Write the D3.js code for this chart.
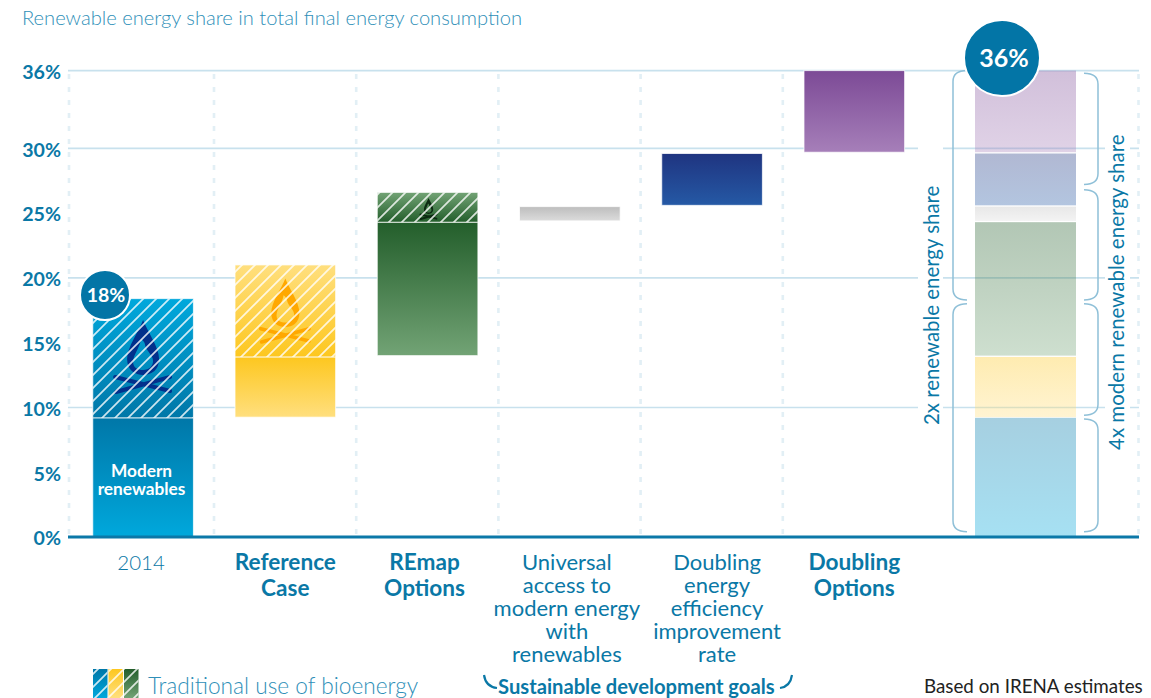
<!DOCTYPE html>
<html><head><meta charset="utf-8">
<script src="https://cdn.jsdelivr.net/npm/d3@7"></script>
<style>
html,body{margin:0;padding:0;background:#fff;overflow:hidden}
svg{display:block}
text{font-family:Lato,"Open Sans",sans-serif}
</style></head><body>
<svg id="c" width="1151" height="698"></svg>
<script>
// ---- data ----
const categories = ["2014","Reference Case","REmap Options","Universal access","Doubling efficiency","Doubling Options"];
const solidFrom  = [0, 9.25, 14.0, 24.4, 25.6, 29.7];
const solidTo    = [9.2, 13.9, 24.3, 25.5, 29.6, 36.0];
const hatchFrom  = [9.2, 13.9, 24.3];
const hatchTo    = [18.4, 21.0, 26.6];
const paletteTop    = ["#0077a8","#fdc71f","#235e2b","#bdbdbd","#1f3480","#7c4a96"];
const paletteBottom = ["#00a8dc","#ffdf7e","#72a375","#dcdcdc","#2559a5","#a67fb9"];
const yTicks = [0,5,10,15,20,25,30,36];
const gridValues = [10,20,30,36];
const dividers = [0,1,2,3,4,5,6,7];
const leftBraces  = [[36,18.3],[18.0,0.4]];
const rightBraces = [[35.8,27.2],[26.8,18.3],[18.0,9.4],[9.1,0.4]];
const catLabels = [
  ["2014"],["Reference","Case"],["REmap","Options"],
  ["Universal","access to","modern energy","with","renewables"],
  ["Doubling","energy","efficiency","improvement","rate"],
  ["Doubling","Options"]];
const catBold = [false,true,true,false,false,true];

// ---- scales ----
const svg = d3.select("#c");
const y = d3.scaleLinear().domain([0,36]).range([537,70.6]);
const x = d3.scaleBand().domain(categories).range([72,925.4]).paddingInner(0.2925).paddingOuter(0.146);
const xDiv = d3.scaleLinear().domain([0,1,6,7]).range([69,214,925,1138.5]);
const xSummary = d3.scaleBand().domain(["summary"]).range([975,1076]);
const BLUE = "#0a78a6", GRID = "#c8e1ed", LIGHT = "#2f8fb8";

// ---- defs ----
const defs = svg.append("defs");
function grad(id,a,b){
  const g = defs.append("linearGradient").attr("id",id).attr("x1",0).attr("x2",0).attr("y1",0).attr("y2",1);
  g.append("stop").attr("offset",0).attr("stop-color",a);
  g.append("stop").attr("offset",1).attr("stop-color",b);
}
paletteTop.forEach((c,i)=>{ grad("s"+i,c,paletteBottom[i]); grad("h"+i,paletteBottom[i],c); });
const pat = defs.append("pattern").attr("id","hatch").attr("patternUnits","userSpaceOnUse")
  .attr("width",13).attr("height",13);
pat.append("path").attr("d","M-3,3 L3,-3 M-3,16 L16,-3 M10,16 L16,10")
  .attr("stroke","#fff").attr("stroke-opacity",.8).attr("stroke-width",1.7).attr("fill","none");

// ---- grid ----
svg.append("g").selectAll("line").data(gridValues).join("line")
  .attr("x1",68).attr("x2",1139).attr("y1",d=>y(d)).attr("y2",d=>y(d))
  .attr("stroke",GRID).attr("stroke-width",1.6);
svg.append("g").selectAll("line").data(dividers).join("line")
  .attr("x1",d=>xDiv(d)).attr("x2",d=>xDiv(d))
  .attr("y1",74).attr("y2",537)
  .attr("stroke","#e2eff5").attr("stroke-width",2.6).attr("stroke-dasharray","5 8");
// gaps in the grid behind the rotated labels
svg.append("g").selectAll("rect").data([[918,25],[1105,25]]).join("rect")
  .attr("x",d=>d[0]).attr("width",d=>d[1]).attr("y",y(36)+3).attr("height",y(0)-y(36)-6).attr("fill","#fff");

// ---- solid bars ----
svg.append("g").selectAll("rect").data(categories).join("rect")
  .attr("x",d=>x(d)).attr("width",x.bandwidth())
  .attr("y",(d,i)=>y(solidTo[i])).attr("height",(d,i)=>y(solidFrom[i])-y(solidTo[i]))
  .attr("fill",(d,i)=>`url(#s${i})`).attr("stroke","#fff").attr("stroke-opacity",.75).attr("stroke-width",1);

// ---- hatched bars ----
const iconScale = [1,0.88,0.29];
const iconFill  = ["#02308c","#ffa800","#0c2a12"];
const iconBase  = [375,327,214];
const iconWeight = [4,4,7];
const hb = svg.append("g");
hatchFrom.forEach((f,i)=>{
  const c = categories[i], bx = x(c), bw = x.bandwidth();
  hb.append("rect").attr("x",bx).attr("y",y(hatchTo[i])).attr("width",bw).attr("height",y(f)-y(hatchTo[i]))
    .attr("fill",`url(#h${i})`);
  const g = hb.append("g").attr("transform",`translate(${bx+bw/2+(i==2?1:0)},${iconBase[i]}) scale(${iconScale[i]})`);
  g.append("path").attr("fill-rule","evenodd").attr("fill",iconFill[i])
   .attr("d","M0,-55 C4,-44 16,-28 16,-16 C16,-5 8,0 0,0 C-8,0 -16,-5 -16,-16 C-16,-28 -4,-44 0,-55Z M-2,-36 C-3,-28 -10,-20 -10,-13 C-10,-7 -5,-5 0,-5 C6,-5 10,-9 10,-14 C10,-20 3,-24 2,-30 C2,-33 -1,-35 -2,-36Z");
  g.append("path").attr("fill","none").attr("stroke",iconFill[i]).attr("stroke-width",iconWeight[i]).attr("stroke-linecap","round")
   .attr("d","M-28,2 L27,16 M-27,17 L27,2");
  hb.append("rect").attr("x",bx).attr("y",y(hatchTo[i])).attr("width",bw).attr("height",y(f)-y(hatchTo[i]))
    .attr("fill","url(#hatch)").attr("stroke","#fff").attr("stroke-opacity",.75).attr("stroke-width",1);
});

// ---- summary column ----
svg.append("g").selectAll("rect").data(categories).join("rect")
  .attr("x",xSummary("summary")).attr("width",xSummary.bandwidth())
  .attr("y",(d,i)=>y(solidTo[i])).attr("height",(d,i)=>y(solidFrom[i])-y(solidTo[i]))
  .attr("fill",(d,i)=>`url(#s${i})`).attr("opacity",.35);

// ---- braces ----
function brace(xv,end,a,b){
  const t=y(a), u=y(b), s=Math.sign(end-xv), r=11;
  return `M${end},${t} C${xv+s*5},${t} ${xv},${t+3} ${xv},${t+r} L${xv},${u-r} C${xv},${u-3} ${xv+s*5},${u} ${end},${u}`;
}
const bg = svg.append("g").attr("fill","none").attr("stroke","#8fc0d8").attr("stroke-width",1.5);
bg.selectAll(".l").data(leftBraces).join("path").attr("class","l").attr("d",d=>brace(953,967,d[0],d[1]));
bg.selectAll(".r").data(rightBraces).join("path").attr("class","r").attr("d",d=>brace(1098,1084,d[0],d[1]));

// ---- axes ----
const ax = svg.append("g").attr("transform","translate(61,0)")
  .call(d3.axisLeft(y).tickValues(yTicks).tickSize(0).tickPadding(0).tickFormat(d=>d+"%"));
ax.select(".domain").remove();
ax.selectAll("text").attr("font-family","Lato").attr("font-size",19.6).attr("font-weight",700).attr("fill",BLUE).attr("dy","0.4em");
svg.append("line").attr("x1",68).attr("x2",1139).attr("y1",y(0)).attr("y2",y(0)).attr("stroke","#0b78a8").attr("stroke-width",3);

// ---- bubbles ----
[[105,295,25,"18%",19.5,1],[1002,58,38,"36%",25,2]].forEach(b=>{
  svg.append("circle").attr("cx",b[0]).attr("cy",b[1]).attr("r",b[2]).attr("fill","#0375a6").attr("stroke","#fff").attr("stroke-width",2);
  svg.append("text").attr("x",b[0]+b[5]).attr("y",b[1]+b[4]*.36).attr("text-anchor","middle").attr("fill","#fff")
    .attr("font-size",b[4]).attr("font-weight",700).text(b[3]);
});

// ---- texts ----
svg.append("text").attr("x",22).attr("y",25).attr("font-size",20.15).attr("font-weight",300).attr("fill",LIGHT)
  .text("Renewable energy share in total final energy consumption");
const lab = svg.append("g").attr("text-anchor","middle");
const labelNudge = [-2,0,-3,-3,5,0];
categories.forEach((c,i)=>{
  const cx = x(c)+x.bandwidth()/2 + labelNudge[i];
  const t = lab.append("text").attr("y",570)
    .attr("font-size",i==0?20.5:(catBold[i]?22.6:22)).attr("font-weight",i==0?300:(catBold[i]?700:400))
    .attr("fill",BLUE);
  catLabels[i].forEach((s,j)=>{
    t.append("tspan").attr("x",cx).attr("y",catBold[i]?570+j*26:570+j*23).text(s);
  });
});
const modern = svg.append("text").attr("text-anchor","middle").attr("font-size",17.3).attr("font-weight",700).attr("fill","#fff");
["Modern","renewables"].forEach((s,j)=>{
  modern.append("tspan").attr("x",141.5).attr("y",477+j*18).text(s);
});
svg.append("text").attr("transform","translate(939,425) rotate(-90)").attr("font-size",20.4).attr("fill",BLUE).text("2x renewable energy share");
svg.append("text").attr("transform","translate(1124,450) rotate(-90)").attr("font-size",20.5).attr("fill",BLUE).text("4x modern renewable energy share");

// ---- legend + notes ----
const sw = svg.append("g");
[0,1,2].forEach(i=>{
  sw.append("rect").attr("x",93+i*15.5).attr("y",669).attr("width",14.5).attr("height",29).attr("fill",`url(#s${i})`);
  sw.append("rect").attr("x",93+i*15.5).attr("y",669).attr("width",14.5).attr("height",29).attr("fill","url(#hatch)");
});
svg.append("text").attr("x",148).attr("y",694).attr("font-size",22.7).attr("font-weight",300).attr("fill",LIGHT).text("Traditional use of bioenergy");
svg.append("text").attr("x",498).attr("y",694).attr("font-size",20.2).attr("font-weight",700).attr("fill",BLUE).text("Sustainable development goals");
svg.append("text").attr("x",924).attr("y",693).attr("font-size",18.8).attr("fill","#222").text("Based on IRENA estimates");
svg.append("path").attr("fill","none").attr("stroke",BLUE).attr("stroke-width",2.2)
  .attr("d","M484,675 C485,682 489,687 497,688 M792,675 C791,682 787,687 780,688");
</script>
</body></html>
